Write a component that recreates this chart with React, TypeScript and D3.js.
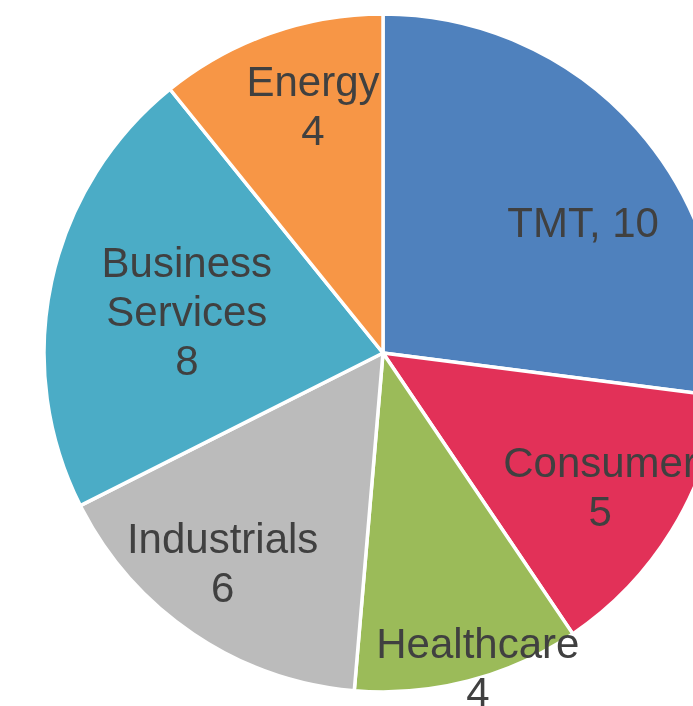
import React from "react";
import * as d3 from "d3";

const categories = ["TMT", "Consumer", "Healthcare", "Industrials", "Business Services", "Energy"];
const values = [10, 5, 4, 6, 8, 4];
const labelLines = [["TMT, 10"], ["Consumer", "5"], ["Healthcare", "4"], ["Industrials", "6"], ["Business", "Services", "8"], ["Energy", "4"]];
const colors = ["#4F81BD", "#E23158", "#9BBB59", "#BBBBBB", "#4BACC6", "#F79646"];

// label placement: [radius factor, angle offset in degrees]
const labelPlacement: [number, number][] = [
  [0.705, 8.2],
  [0.752, 0],
  [0.968, -2.2],
  [0.778, 3.4],
  [0.592, 0],
  [0.76, 3.7],
];

const W = 693;
const H = 706;
const cx = 383;
const cy = 353;
const R = 339;
const FONT = 42;
const LINE = 49;

export default function App() {
  const data = categories.map((c, i) => ({ c, v: values[i], i }));
  const pie = d3.pie<any>().value((d) => d.v).sort(null);
  const arcs = pie(data);
  const arcGen = d3.arc<any>().innerRadius(0).outerRadius(R);

  return (
    <svg width={W} height={H} style={{ position: "fixed", left: 0, top: 0 }}>
      <g transform={`translate(${cx},${cy})`}>
        {arcs.map((a, i) => (
          <path key={i} d={arcGen(a) as string} fill={colors[i]} stroke="#FFFFFF" strokeWidth={3.5} strokeLinejoin="round" />
        ))}
        {arcs.map((a, i) => {
          const [f, off] = labelPlacement[i];
          const ang = (a.startAngle + a.endAngle) / 2 + (off * Math.PI) / 180;
          const x = Math.sin(ang) * R * f;
          const y = -Math.cos(ang) * R * f;
          const lines = labelLines[i];
          return (
            <text key={"t" + i} x={x} y={y} textAnchor="middle" fill="#404040" fontFamily="'Liberation Sans', Arial, sans-serif" fontSize={FONT}>
              {lines.map((l, j) => (
                <tspan key={j} x={x} y={y + (j - (lines.length - 1) / 2) * LINE + 15}>
                  {l}
                </tspan>
              ))}
            </text>
          );
        })}
      </g>
    </svg>
  );
}
